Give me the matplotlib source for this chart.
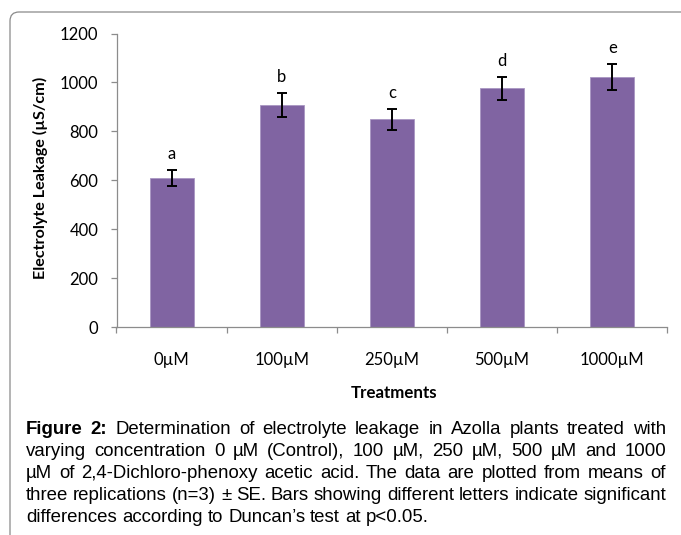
import matplotlib
matplotlib.use("Agg")
import matplotlib.pyplot as plt
from matplotlib.patches import FancyBboxPatch
from matplotlib.transforms import IdentityTransform

treatments = ["0µM", "100µM", "250µM", "500µM", "1000µM"]
leakage = [610, 908, 850, 976, 1022]
se = [32, 48, 43, 48, 53]
letters = ["a", "b", "c", "d", "e"]
yticks = [0, 200, 400, 600, 800, 1000, 1200]

caption = [
    "Figure 2: Determination of electrolyte leakage in Azolla plants treated with",
    "varying concentration 0 µM (Control), 100 µM, 250 µM, 500 µM and 1000",
    "µM of 2,4-Dichloro-phenoxy acetic acid. The data are plotted from means of",
    "three replications (n=3) ± SE. Bars showing different letters indicate significant",
    "differences according to Duncan’s test at p<0.05.",
]

W, H = 681, 535
chart_font = ["Lato", "DejaVu Sans"]
cap_font = ["Liberation Sans", "DejaVu Sans"]
cap_size = 13.4
axis_grey = "#8c8c8c"

fig = plt.figure(figsize=(W / 100, H / 100), dpi=100)

# frame around the whole figure panel (runs off the right and bottom edges)
frame = FancyBboxPatch((10, -30), 720, H - 12 + 30, boxstyle="round,pad=0,rounding_size=9",
                       transform=IdentityTransform(), fill=False, ec="#8a8a8a", lw=0.9)
fig.add_artist(frame)

ax = fig.add_axes([116.5 / W, 1 - 327 / H, (667.3 - 116.5) / W, (327 - 33.5) / H])
x = list(range(len(treatments)))
ax.bar(x, leakage, width=0.4, color="#8064A2", edgecolor="#a996c2", linewidth=0.6, zorder=2)
ax.errorbar(x, leakage, yerr=se, fmt="none", ecolor="black", elinewidth=1.4,
            capsize=3.3, capthick=1.4, zorder=3)
for xi, m, s, lab in zip(x, leakage, se, letters):
    ax.annotate(lab, (xi, m + s), xytext=(0, 11.5), textcoords="offset points",
                ha="center", va="center", fontsize=12, family=chart_font)

ax.set_xlim(-0.5, len(treatments) - 0.5)
ax.set_ylim(0, 1200)
ax.set_yticks(yticks)
ax.set_yticklabels([str(v) for v in yticks], family=chart_font, fontsize=12)
ax.set_xticks(x)
ax.set_xticklabels(treatments, family=chart_font, fontsize=12)
ax.set_xticks([i - 0.5 for i in range(len(treatments) + 1)], minor=True)
ax.tick_params(axis="x", which="major", length=0, pad=18)
ax.tick_params(axis="x", which="minor", length=4, width=0.9, color=axis_grey, direction="out")
ax.tick_params(axis="y", length=4, width=0.9, color=axis_grey, pad=9)
for side in ("top", "right"):
    ax.spines[side].set_visible(False)
for side in ("left", "bottom"):
    ax.spines[side].set_color(axis_grey)
    ax.spines[side].set_linewidth(0.9)

fig.text(40 / W, 1 - 178 / H, "Electrolyte Leakage (µS/cm)", rotation=90, ha="center",
         va="center", fontsize=11.6, fontweight="bold", family=chart_font)
fig.text(394 / W, 1 - 398 / H, "Treatments", ha="center", va="baseline",
         fontsize=12.2, fontweight="bold", family=chart_font)

# justified caption, word by word
renderer = fig.canvas.get_renderer()
left, right = 26, 666
probe = fig.text(0, 0, "a a", fontsize=cap_size, family=cap_font)
probe2 = fig.text(0, 0, "aa", fontsize=cap_size, family=cap_font)
space = probe.get_window_extent(renderer).width - probe2.get_window_extent(renderer).width
probe.remove()
probe2.remove()
for i, line in enumerate(caption):
    base = 1 - (434 + 22 * i) / H
    words = line.split(" ")
    arts = []
    for j, w in enumerate(words):
        bold = i == 0 and j < 2
        t = fig.text(0, base, w, fontsize=cap_size, family=cap_font, va="baseline",
                     fontweight="bold" if bold else "normal")
        arts.append(t)
    widths = [a.get_window_extent(renderer).width for a in arts]
    if i < len(caption) - 1:
        gap = (right - left - sum(widths)) / (len(words) - 1)
    else:
        gap = space
    xpos = left
    for a, wd in zip(arts, widths):
        a.set_x(xpos / W)
        xpos += wd + gap

fig.savefig("out.png", dpi=100)
